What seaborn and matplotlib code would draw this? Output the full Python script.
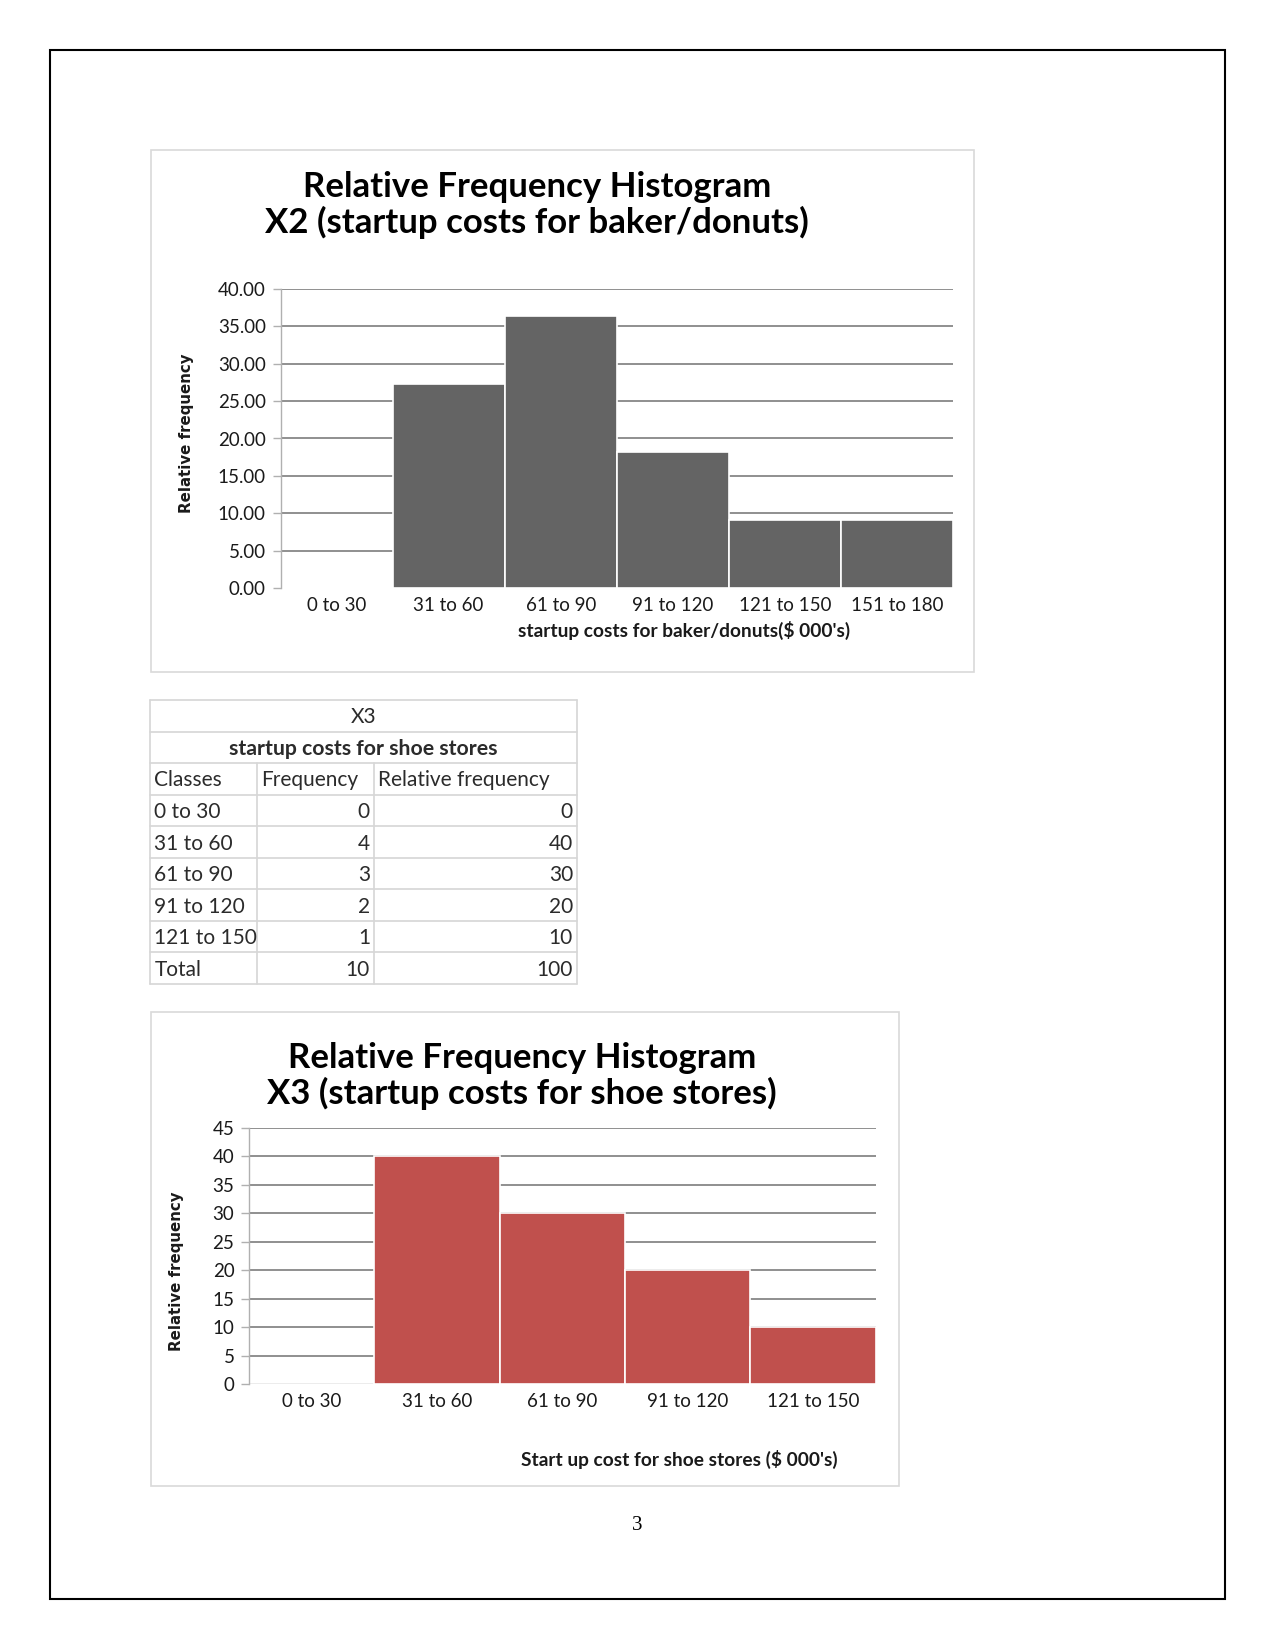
import matplotlib
matplotlib.use("Agg")
import matplotlib.pyplot as plt
import seaborn as sns
import pandas as pd
import numpy as np
from matplotlib.patches import Rectangle
from matplotlib.lines import Line2D

W, H = 1275, 1651

# ---------------- data ----------------
x2_classes = ["0 to 30", "31 to 60", "61 to 90", "91 to 120", "121 to 150", "151 to 180"]
x2_relfreq = [0.0, 27.27, 36.36, 18.18, 9.09, 9.09]

x3_classes = ["0 to 30", "31 to 60", "61 to 90", "91 to 120", "121 to 150"]
x3_freq = [0, 4, 3, 2, 1]
x3_relfreq = [0, 40, 30, 20, 10]
x3_total_freq = 10
x3_total_rel = 100

x2_title = "Relative Frequency Histogram\nX2 (startup costs for baker/donuts)"
x2_xlabel = "startup costs for baker/donuts($ 000's)"
x3_title = "Relative Frequency Histogram\nX3 (startup costs for shoe stores)"
x3_xlabel = "Start up cost for shoe stores ($ 000's)"
ylabel_txt = "Relative frequency"
table_head = ["Classes", "Frequency", "Relative frequency"]

sns.set_theme(style="white")
plt.rcParams["font.family"] = ["Lato", "DejaVu Sans"]

fig = plt.figure(figsize=(W / 100, H / 100), dpi=100)


def fx(x):
    return x / W


def fy(y):
    return 1 - y / H


def box(x0, y0, x1, y1, color, lw):
    fig.add_artist(Rectangle((fx(x0), fy(y1)), (x1 - x0) / W, (y1 - y0) / H,
                             transform=fig.transFigure, fill=False,
                             edgecolor=color, linewidth=lw))


def add_ax(left, right, top, bottom):
    return fig.add_axes([fx(left), fy(bottom), (right - left) / W, (bottom - top) / H])


def hist(ax, cats, vals, color, ymax, step, fmt, zero_line):
    df = pd.DataFrame({"cls": cats, "rf": vals})
    sns.barplot(data=df, x="cls", y="rf", color=color, width=1.0,
                edgecolor="white", linewidth=1.2, saturation=1, ax=ax)
    ax.set_xlim(-0.5, len(cats) - 0.5)
    ax.set_ylim(0, ymax)
    ticks = np.arange(0, ymax + 0.001, step)
    ax.set_yticks(ticks)
    ax.set_yticklabels([fmt.format(t) for t in ticks])
    ax.yaxis.grid(True, color="#878787", linewidth=1.3)
    ax.xaxis.grid(False)
    ax.set_axisbelow(True)
    for s in ["top", "right", "bottom"]:
        ax.spines[s].set_visible(False)
    ax.spines["left"].set_color("#b0b0b0")
    ax.spines["left"].set_linewidth(1.0)
    ax.tick_params(axis="y", left=True, length=6, color="#b0b0b0", width=1,
                   labelsize=13.5, labelcolor="#1a1a1a", pad=4.5)
    ax.tick_params(axis="x", bottom=False, labelsize=13.5, labelcolor="#1a1a1a", pad=0.5)
    ax.set_xlabel("")
    ax.set_ylabel("")
    ax.set_facecolor("white")
    if not zero_line:
        ax.get_ygridlines()[0].set_visible(False)


# page border
box(50.5, 50.5, 1224.5, 1599, "black", 1.5)

# ---------------- chart 1 ----------------
box(150.5, 150.5, 974, 672, "#d9d9d9", 1.2)
ax1 = add_ax(280.5, 953, 289, 588)
hist(ax1, x2_classes, x2_relfreq, "#646464", 40, 5, "{:.2f}", False)
fig.text(fx(537), fy(205), x2_title, ha="center", va="center", fontsize=25,
         fontweight="bold", linespacing=1.1, color="black")
fig.text(fx(186), fy(433), ylabel_txt, rotation=90, ha="center", va="center",
         fontsize=10.8, fontweight="bold", family=["DejaVu Sans"], color="#1a1a1a")
fig.text(fx(684), fy(630), x2_xlabel, ha="center", va="center", fontsize=13.8,
         fontweight="bold", color="#1a1a1a")

# ---------------- table ----------------
tx0, tx1, ty0, ty1 = 150.5, 577, 700, 984
col_edges = [150.5, 257, 374, 577]
nrows = 9
rh = (ty1 - ty0) / nrows
axt = add_ax(tx0, tx1, ty0, ty1)
axt.set_xlim(tx0, tx1)
axt.set_ylim(ty1, ty0)
axt.axis("off")
gc = "#d6d6d6"
for i in range(nrows + 1):
    axt.add_line(Line2D([tx0, tx1], [ty0 + i * rh] * 2, color=gc, lw=1.2, clip_on=False))
for xe in [tx0, tx1]:
    axt.add_line(Line2D([xe, xe], [ty0, ty1], color=gc, lw=1.2, clip_on=False))
for xe in col_edges[1:3]:
    axt.add_line(Line2D([xe, xe], [ty0 + 2 * rh, ty1], color=gc, lw=1.2, clip_on=False))

tcol = "#2b2b2b"
tfs = 15
dy = 1.5
axt.text((tx0 + tx1) / 2, ty0 + 0.5 * rh + dy, "X3", ha="center", va="center", fontsize=tfs, color=tcol)
axt.text((tx0 + tx1) / 2, ty0 + 1.5 * rh + dy, "startup costs for shoe stores", ha="center",
         va="center", fontsize=tfs + 0.3, fontweight="bold", color=tcol)
for j, h in enumerate(table_head):
    axt.text(col_edges[j] + 4, ty0 + 2.5 * rh + dy, h, ha="left", va="center", fontsize=tfs, color=tcol)
rows = [(c, f, r) for c, f, r in zip(x3_classes, x3_freq, x3_relfreq)]
rows.append(("Total", x3_total_freq, x3_total_rel))
for i, (c, f, r) in enumerate(rows):
    yc = ty0 + (3.5 + i) * rh + dy
    axt.text(col_edges[0] + 4, yc, c, ha="left", va="center", fontsize=tfs, color=tcol)
    axt.text(col_edges[2] - 4, yc, str(f), ha="right", va="center", fontsize=tfs, color=tcol)
    axt.text(col_edges[3] - 4, yc, str(r), ha="right", va="center", fontsize=tfs, color=tcol)

# ---------------- chart 2 ----------------
box(150.5, 1012, 899, 1486, "#d9d9d9", 1.2)
ax2 = add_ax(249, 875.5, 1127.5, 1384)
hist(ax2, x3_classes, x3_relfreq, "#C0504D", 45, 5, "{:.0f}", True)
fig.text(fx(522), fy(1076), x3_title, ha="center", va="center", fontsize=25,
         fontweight="bold", linespacing=1.1, color="black")
fig.text(fx(177), fy(1271), ylabel_txt, rotation=90, ha="center", va="center",
         fontsize=10.8, fontweight="bold", family=["DejaVu Sans"], color="#1a1a1a")
fig.text(fx(679), fy(1459), x3_xlabel, ha="center", va="center", fontsize=13.8,
         fontweight="bold", color="#1a1a1a")

# page number
fig.text(fx(637), fy(1525), "3", ha="center", va="center", fontsize=15,
         family=["Liberation Serif"], color="black")

fig.savefig("out.png", dpi=100, facecolor="white")
